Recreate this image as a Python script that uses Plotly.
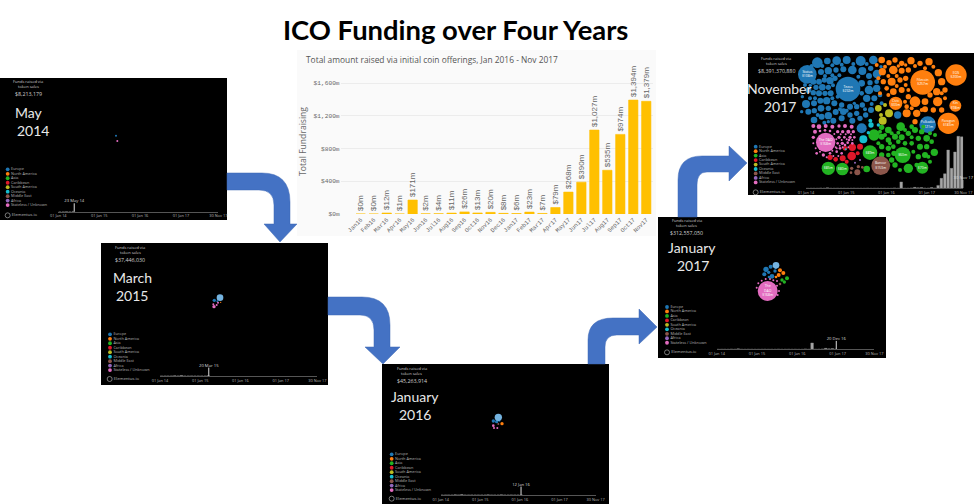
import plotly.graph_objects as go

W = 974
H = 504

# Main bar chart
months = ["Jan16", "Feb16", "Mar16", "Apr16", "May16", "Jun16", "Jul16", "Aug16", "Sep16", "Oct16", "Nov16", "Dec16",
          "Jan17", "Feb17", "Mar17", "Apr17", "May17", "Jun17", "Jul17", "Aug17", "Sep17", "Oct17", "Nov17"]
raised = [0, 0, 12, 1, 171, 2, 4, 11, 26, 13, 20, 8, 6, 23, 7, 79, 268, 390, 1027, 535, 974, 1394, 1379]
raised_labels = ["$0m", "$0m", "$12m", "$1m", "$171m", "$2m", "$4m", "$11m", "$26m", "$13m", "$20m", "$8m", "$6m",
                 "$23m", "$7m", "$79m", "$268m", "$390m", "$1,027m", "$535m", "$974m", "$1,394m", "$1,379m"]
y_ticks = [0, 400, 800, 1200, 1600]
y_tick_labels = ["$0m", "$400m", "$800m", "$1,200m", "$1,600m"]

# The timeline under each dark panel, monthly from Jan 2014 (2014-15 estimated, almost flat in the picture)
raised_2014_15 = [0, 1, 2, 1, 8, 3, 14, 2, 1, 3, 2, 1, 1, 2, 4, 1, 2, 1, 6, 1, 2, 3, 1, 2]
timeline_ticks = ["2014-01-01", "2015-01-01", "2016-01-01", "2017-01-01", "2017-11-30"]
timeline_labels = ["01 Jan 14", "01 Jan 15", "01 Jan 16", "01 Jan 17", "30 Nov 17"]

regions = ["Europe", "North America", "Asia", "Caribbean", "South America", "Oceania", "Middle East", "Africa",
           "Stateless / Unknown"]
region_colors = ["#1f77b4", "#ff7f0e", "#22b322", "#e0182a", "#bcbd22", "#17becf", "#8c564b", "#9467bd", "#e36cc0"]
selected_color = "#74b3e0"  # the one pale blue bubble in the early panels

may14 = {"Europe": [(348, 182, 3, "")], "Stateless / Unknown": [(352, 198, 3, "")]}
mar15 = {
    "Europe": [(343, 181, 5, ""), (352, 184, 3, "")],
    "North America": [(362, 187, 2, "")],
    "Stateless / Unknown": [(354, 188, 3, ""), (342, 200, 5, ""), (350, 195, 3, ""), (340, 193, 3, "")],
    "Selected": [(360, 173, 10, "")],
}
jan16 = {
    "Europe": [(340, 183, 5, ""), (350, 185, 5, ""), (358, 182, 3, "")],
    "North America": [(366, 191, 5, "")],
    "Middle East": [(355, 192, 3, "")],
    "Stateless / Unknown": [(340, 197, 4, ""), (352, 204, 3, ""), (342, 204, 3, "")],
    "Selected": [(355, 172, 11, "")],
}
jan17 = {
    "Europe": [(333, 163, 8, ""), (347, 155, 6, ""), (328, 178, 6, ""), (351, 184, 7, ""),
               (341, 172, 5, ""), (360, 168, 5, ""), (342, 186, 4, ""), (362, 158, 4, "")],
    "North America": [(375, 166, 6, ""), (385, 174, 6, ""), (371, 180, 6, ""), (363, 186, 4, "")],
    "Asia": [(396, 190, 6, ""), (381, 195, 5, ""), (388, 201, 5, "")],
    "Middle East": [(375, 207, 4, "")],
    "Stateless / Unknown": [(338, 228, 30, "The\nDAO\n$168m"), (305, 218, 3, ""), (310, 205, 3, ""), (320, 197, 3, ""),
                            (332, 192, 3, ""), (345, 192, 3, ""), (355, 196, 3, ""), (366, 198, 3, ""),
                            (372, 228, 3, ""), (366, 212, 3, ""), (368, 240, 3, "")],
    "Selected": [(363, 151, 10, "")],
}
nov17 = {
    "Europe": [(309, 117, 37, "Tezos\n$232m"), (187, 73, 28, "Status\n$108m"), (548, 224, 25, "Polkadot\n$121m"),
               (217, 38, 16, ""), (247, 33, 10, ""), (275, 32, 13, ""), (305, 30, 12, ""), (347, 33, 15, ""),
               (385, 30, 13, ""), (228, 66, 9, ""), (250, 62, 11, ""), (273, 60, 8, ""), (295, 58, 9, ""),
               (322, 60, 13, ""), (352, 63, 12, ""), (377, 55, 8, ""), (396, 72, 13, ""), (372, 78, 9, ""),
               (205, 95, 9, ""), (222, 95, 9, ""), (238, 90, 8, ""), (255, 92, 11, ""), (270, 85, 8, ""),
               (213, 112, 8, ""), (232, 112, 10, ""), (250, 112, 8, ""), (190, 120, 9, ""), (205, 128, 8, ""),
               (222, 130, 9, ""), (240, 130, 8, ""), (257, 130, 9, ""), (183, 162, 12, ""), (207, 160, 9, ""),
               (226, 152, 9, ""), (245, 152, 11, ""), (268, 160, 9, ""), (290, 165, 8, ""), (190, 185, 9, ""),
               (208, 182, 8, ""), (228, 175, 10, ""), (250, 175, 8, ""), (207, 210, 10, ""), (230, 200, 9, ""),
               (250, 197, 11, ""), (272, 186, 9, ""), (295, 185, 10, ""), (315, 170, 9, ""), (335, 170, 8, ""),
               (352, 165, 8, ""), (265, 212, 9, ""), (290, 205, 9, ""), (315, 195, 8, ""), (335, 190, 8, ""),
               (350, 235, 15, ""), (322, 212, 9, ""), (345, 205, 8, ""), (362, 195, 8, ""), (378, 180, 9, ""),
               (372, 120, 13, ""), (395, 115, 11, ""), (365, 145, 11, ""), (388, 145, 9, ""), (350, 100, 10, ""),
               (375, 98, 8, ""), (458, 195, 11, ""), (200, 48, 6, ""), (232, 48, 6, ""), (262, 46, 6, ""),
               (290, 44, 6, ""), (325, 42, 6, ""), (365, 42, 6, ""), (408, 50, 5, ""), (240, 78, 6, ""),
               (262, 76, 6, ""), (283, 76, 6, ""), (340, 80, 6, ""), (180, 105, 6, ""), (196, 106, 5, ""),
               (264, 106, 6, ""), (210, 145, 6, ""), (195, 145, 6, ""), (172, 140, 5, ""), (170, 185, 5, ""),
               (218, 195, 6, ""), (238, 218, 6, ""), (250, 215, 5, ""), (350, 130, 7, ""), (405, 135, 7, ""),
               (410, 160, 6, ""), (380, 162, 6, ""), (360, 178, 6, ""), (328, 160, 5, ""), (278, 140, 6, ""),
               (262, 145, 6, ""), (285, 178, 6, ""), (305, 182, 6, ""), (395, 95, 7, "")],
    "North America": [(533, 97, 37, "Filecoin\n$257m"), (633, 75, 32, "EOS\n$200m"), (610, 220, 32, "Paragon\n$183m"),
                      (452, 160, 20, "Civic\n$33m"), (631, 167, 18, "Kin\n$98m"), (410, 30, 10, ""), (432, 38, 8, ""),
                      (450, 30, 8, ""), (470, 40, 8, ""), (498, 32, 11, ""), (525, 40, 8, ""), (552, 35, 11, ""),
                      (445, 60, 13, ""), (412, 65, 11, ""), (470, 62, 9, ""), (490, 60, 8, ""), (580, 68, 11, ""),
                      (590, 95, 11, ""), (490, 140, 8, ""), (510, 155, 16, ""), (540, 155, 10, ""), (578, 155, 14, ""),
                      (440, 95, 12, ""), (465, 90, 8, ""), (415, 95, 8, ""), (482, 85, 8, ""), (470, 120, 9, ""),
                      (445, 125, 10, ""), (425, 115, 7, ""), (600, 120, 8, ""), (575, 125, 11, ""), (555, 135, 8, ""),
                      (485, 190, 12, ""), (515, 190, 11, ""), (540, 178, 9, ""), (565, 180, 8, ""), (590, 180, 8, ""),
                      (510, 215, 8, ""), (485, 170, 7, ""), (395, 45, 6, ""), (420, 50, 6, ""), (460, 48, 5, ""),
                      (510, 48, 6, ""), (540, 55, 6, ""), (565, 50, 6, ""), (482, 45, 5, ""), (400, 85, 6, ""),
                      (430, 78, 6, ""), (455, 78, 6, ""), (482, 105, 6, ""), (490, 120, 6, ""), (455, 108, 6, ""),
                      (430, 135, 6, ""), (405, 130, 6, ""), (480, 155, 6, ""), (600, 145, 6, ""), (590, 130, 6, ""),
                      (530, 180, 6, ""), (500, 175, 6, "")],
    "Asia": [(473, 315, 24, "$60m"), (250, 355, 20, "$85m"), (292, 357, 19, "$80m"), (375, 308, 22, "$89m"),
             (387, 255, 17, ""), (532, 353, 18, "$70m"), (467, 230, 13, ""), (490, 355, 14, ""), (365, 357, 10, ""),
             (568, 307, 11, ""), (450, 345, 8, ""), (430, 240, 10, ""), (410, 232, 8, ""), (410, 260, 9, ""),
             (430, 270, 8, ""), (450, 260, 9, ""), (470, 262, 9, ""), (490, 250, 8, ""), (510, 240, 9, ""),
             (530, 245, 8, ""), (520, 265, 8, ""), (545, 265, 10, ""), (500, 280, 7, ""), (525, 290, 9, ""),
             (545, 290, 8, ""), (560, 275, 7, ""), (410, 290, 8, ""), (430, 295, 8, ""), (445, 290, 7, ""),
             (430, 315, 7, ""), (440, 330, 8, ""), (520, 320, 8, ""), (540, 315, 9, ""), (515, 345, 7, ""),
             (410, 315, 8, ""), (460, 275, 7, ""), (480, 280, 7, ""), (447, 310, 8, ""), (500, 230, 7, ""),
             (405, 245, 6, ""), (420, 255, 6, ""), (440, 250, 6, ""), (460, 248, 6, ""), (480, 240, 6, ""),
             (500, 262, 6, ""), (535, 230, 6, ""), (555, 250, 6, ""), (570, 255, 6, ""), (505, 305, 6, ""),
             (555, 335, 6, ""), (430, 345, 6, ""), (465, 360, 6, ""), (400, 280, 6, ""), (435, 280, 6, ""),
             (550, 320, 6, "")],
    "Caribbean": [(320, 318, 13, ""), (322, 292, 11, ""), (345, 290, 9, ""), (300, 295, 7, ""), (293, 325, 9, ""),
                  (272, 328, 7, ""), (255, 322, 8, ""), (338, 310, 6, ""), (305, 335, 6, "")],
    "South America": [(400, 175, 10, ""), (432, 190, 12, ""), (413, 212, 12, ""), (420, 165, 6, ""), (408, 195, 6, "")],
    "Oceania": [(355, 268, 12, ""), (378, 225, 8, ""), (376, 212, 6, ""), (400, 225, 5, ""), (302, 298, 3, ""),
                (370, 248, 5, "")],
    "Middle East": [(407, 347, 28, "Bancor\n$153m"), (337, 367, 9, ""), (320, 355, 5, ""), (340, 350, 5, ""),
                    (352, 352, 4, ""), (318, 368, 4, "")],
    "Africa": [(345, 330, 3, ""), (330, 338, 3, "")],
    "Stateless / Unknown": [(242, 277, 29, "The DAO\n$168m"), (205, 228, 6, ""), (222, 230, 7, ""), (242, 228, 6, ""),
                            (262, 230, 6, ""), (282, 228, 5, ""), (300, 228, 6, ""), (320, 230, 6, ""),
                            (210, 245, 6, ""), (205, 262, 5, ""), (278, 245, 5, ""), (293, 245, 5, ""),
                            (310, 245, 6, ""), (325, 245, 5, ""), (282, 262, 5, ""), (298, 262, 4, ""),
                            (315, 262, 5, ""), (328, 262, 4, ""), (278, 280, 4, ""), (292, 280, 5, ""),
                            (308, 278, 4, ""), (322, 280, 4, ""), (285, 295, 4, ""), (300, 285, 4, ""),
                            (215, 310, 4, ""), (235, 315, 5, ""), (255, 310, 4, ""), (275, 305, 4, ""),
                            (290, 310, 4, ""), (312, 270, 4, ""), (225, 243, 4, ""), (240, 241, 4, ""),
                            (255, 243, 4, ""), (268, 252, 3, ""), (287, 253, 3, ""), (302, 253, 3, ""),
                            (318, 253, 3, ""), (274, 268, 3, ""), (290, 270, 3, ""), (305, 268, 3, ""),
                            (322, 270, 3, ""), (284, 287, 3, ""), (293, 292, 3, ""), (310, 292, 3, ""),
                            (272, 292, 3, ""), (262, 302, 3, ""), (275, 295, 3, ""), (225, 305, 3, ""),
                            (245, 322, 3, ""), (265, 318, 3, ""), (280, 318, 3, ""), (212, 295, 3, ""),
                            (205, 280, 3, "")],
}

# Dark panels. crop = where the 3x crop began, all panel text and bubbles are in those units
panels = [
    dict(box=(0, 78, 227, 220), crop=(0, 75), bubbles=may14, total="$8,213,179", month="May", year="2014",
         marker="2014-05-23", marker_label="23 May 14", head=(85, 19, 35, 58), month_at=(88, 112), year_at=(98, 165),
         legend=(23, 283), time=(175, 655, 410), logo=(23, 421)),
    dict(box=(101, 243, 328, 385), crop=(100, 240), bubbles=mar15, total="$37,446,030", month="March", year="2015",
         marker="2015-03-20", marker_label="20 Mar 15", head=(90, 21, 36, 59), month_at=(97, 112), year_at=(95, 165),
         legend=(30, 283), time=(180, 652, 408), logo=(29, 417)),
    dict(box=(382, 364, 609, 504), crop=(380, 360), bubbles=jan16, total="$45,263,914", month="January", year="2016",
         marker="2016-01-12", marker_label="12 Jan 16", head=(95, 26, 41, 62), month_at=(105, 110), year_at=(104, 162),
         legend=(35, 283), time=(182, 647, 405), logo=(35, 416)),
    dict(box=(658, 217, 886, 358), crop=(655, 215), bubbles=jan17, total="$312,557,050", month="January", year="2017",
         marker="2016-12-20", marker_label="20 Dec 16", head=(95, 16, 32, 53), month_at=(112, 97), year_at=(115, 150),
         legend=(36, 276), time=(185, 658, 403), logo=(36, 412)),
    dict(box=(748, 53, 974, 195), crop=(745, 50), bubbles=nov17, total="$8,391,370,880", month="November", year="2017",
         marker="2017-11-30", marker_label="30 Nov 17", head=(93, 27, 42, 63), month_at=(103, 117), year_at=(105, 170),
         legend=(32, 290), time=(183, 655, 415), logo=(32, 427)),
]

# Blue bent arrows, in picture pixels
arrows = [
    "M227,173 L262,173 Q290,173 290,202 L290,224 L297,224 L280,242 L264,224 L274,224 L274,205 Q274,190 259,190 L227,190 Z",
    "M328,297 L362,297 Q390,297 390,325 L390,347 L400,347 L383,364 L365,347 L374,347 L374,330 Q374,315 360,315 L328,315 Z",
    "M588,364 L588,340 Q588,318 613,318 L639,318 L639,309 L657,327 L639,344 L639,335 L617,335 Q605,335 605,347 L605,364 Z",
    "M678,217 L678,180 Q678,156 702,156 L729,156 L729,146 L747,163 L729,181 L729,172 L707,172 Q697,172 697,185 L697,217 Z",
]


def fx(px):
    return px/W


def fy(px):
    return 1 - px/H


def to_paper(path):
    out = []
    for part in path.split():
        if "," in part:
            a, b = part[1:].split(",") if part[0].isalpha() else part.split(",")
            prefix = part[0] if part[0].isalpha() else ""
            out.append(f"{prefix}{fx(float(a)):.5f},{fy(float(b)):.5f}")
        else:
            out.append(part)
    return " ".join(out)


fig = go.Figure()
shapes = []
notes = []
axes = {}

# Centre panel background, paper shapes sit under every subplot
shapes.append(dict(type="rect", xref="paper", yref="paper", x0=fx(297), x1=fx(656), y0=fy(236), y1=fy(50),
                   fillcolor="#fafafa", line_width=0, layer="below"))

fig.add_trace(go.Bar(x=months, y=raised, text=raised_labels, textposition="outside", textangle=-90,
                     cliponaxis=False, constraintext="none", width=0.72,
                     marker=dict(color="#FFC000", line=dict(color="#FFC000", width=0.6)),
                     textfont=dict(family="Liberation Sans", size=8, color="#666666")))
axes["xaxis"] = dict(domain=[fx(340.6), fx(653.4)], anchor="y", range=[-1.55, 22.55], type="category",
                     tickmode="array", tickvals=months, ticktext=months, tickangle=-45, ticklen=0,
                     tickfont=dict(family="Liberation Mono", size=6, color="#666666"), showgrid=False,
                     showline=False, zeroline=False)
axes["yaxis"] = dict(domain=[fy(214), fy(66.9)], anchor="x", range=[0, 1800], tickmode="array", tickvals=y_ticks,
                     ticktext=y_tick_labels, ticklen=0, gridcolor="#ececec", gridwidth=1, zeroline=False,
                     tickfont=dict(family="Liberation Mono", size=6.2, color="#666666"))

notes.append(dict(text="<b>ICO Funding over Four Years</b>", x=fx(455), y=fy(29), xref="paper", yref="paper",
                  xanchor="center", yanchor="middle", showarrow=False,
                  font=dict(family="Lato", size=27.4, color="#000000")))
notes.append(dict(text="Total amount raised via initial coin offerings, Jan 2016 - Nov 2017", x=fx(304), y=fy(59),
                  xref="paper", yref="paper", xanchor="left", yanchor="middle", showarrow=False,
                  font=dict(family="Open Sans", size=8.4, color="#555555")))
notes.append(dict(text="Total Fundraising", x=fx(303), y=fy(142), xref="paper", yref="paper", textangle=-90,
                  xanchor="center", yanchor="middle", showarrow=False,
                  font=dict(family="Open Sans", size=8.6, color="#666666")))

timeline_dates = [f"{y}-{m:02d}-15" for y in (2014, 2015, 2016, 2017) for m in range(1, 13)][:47]
timeline_values = raised_2014_15 + raised

n = 2
for p in panels:
    left, top, right, bottom = p["box"]
    cx, cy = p["crop"]
    xa, ya = f"x{n}", f"y{n}"
    xb, yb = f"x{n+1}", f"y{n+1}"
    shapes.append(dict(type="rect", xref="paper", yref="paper", x0=fx(left), x1=fx(right), y0=fy(bottom), y1=fy(top),
                       fillcolor="#000000", line_width=0, layer="below"))
    axes[f"xaxis{n}"] = dict(domain=[fx(left), fx(right)], anchor=ya, visible=False,
                             range=[(left-cx)*3, (right-cx)*3])
    axes[f"yaxis{n}"] = dict(domain=[fy(bottom), fy(top)], anchor=xa, visible=False,
                             range=[(bottom-cy)*3, (top-cy)*3])

    # Timeline with the month bars up to the marker date
    t0, t1, base = p["time"]
    base_px = cy + base/3
    axes[f"xaxis{n+1}"] = dict(domain=[fx(cx + t0/3), fx(cx + t1/3)], anchor=yb, type="date",
                               range=[timeline_ticks[0], timeline_ticks[-1]], tickmode="array",
                               tickvals=timeline_ticks, ticktext=timeline_labels, ticklen=0, showgrid=False,
                               tickangle=0, zeroline=False, showline=True, linecolor="#555555", linewidth=1,
                               tickfont=dict(family="Open Sans", size=3.9, color="#bbbbbb"))
    axes[f"yaxis{n+1}"] = dict(domain=[fy(base_px), fy(base_px - 60)], anchor=xb, range=[0, 1608], visible=False)
    shown = [i for i, d in enumerate(timeline_dates) if d[:7] <= p["marker"][:7]]
    fig.add_trace(go.Bar(x=[timeline_dates[i] for i in shown], y=[timeline_values[i] for i in shown],
                         width=2.1e9, marker=dict(color="#a6a6a6", line=dict(color="#8a8a8a", width=0.4)),
                         xaxis=xb, yaxis=yb))
    fig.add_trace(go.Scatter(x=[p["marker"], p["marker"]], y=[0, 225], text=["", p["marker_label"]],
                             mode="lines+text", textposition="top center", cliponaxis=False,
                             line=dict(color="#dddddd", width=1), xaxis=xb, yaxis=yb,
                             textfont=dict(family="Open Sans", size=4.2, color="#dddddd")))

    # Bubbles, region by region
    for region, color in zip(regions + ["Selected"], region_colors + [selected_color]):
        if region not in p["bubbles"]:
            continue
        rows = p["bubbles"][region]
        fig.add_trace(go.Scatter(x=[r[0] for r in rows], y=[r[1] for r in rows],
                                 text=[r[3].replace("\n", "<br>") for r in rows], mode="markers+text",
                                 textposition="middle center", xaxis=xa, yaxis=ya, cliponaxis=False,
                                 marker=dict(size=[r[2]*2/3 for r in rows], color=color, opacity=1, line_width=0),
                                 textfont=dict(family="Open Sans", size=3.4, color="#ffffff")))

    # Legend as markers with text
    lx, ly = p["legend"]
    fig.add_trace(go.Scatter(x=[lx]*len(regions), y=[ly + i*13.4 for i in range(len(regions))], text=regions,
                             mode="markers+text", textposition="middle right", xaxis=xa, yaxis=ya,
                             marker=dict(size=3.8, color=region_colors, opacity=1),
                             textfont=dict(family="Open Sans", size=3.8, color="#b5b5b5")))
    fig.add_trace(go.Scatter(x=[p["logo"][0]], y=[p["logo"][1]], text=["Elementus.io"], mode="markers+text",
                             textposition="middle right", xaxis=xa, yaxis=ya,
                             marker=dict(size=5, color="#000000", line=dict(color="#aaaaaa", width=0.7)),
                             textfont=dict(family="Open Sans", size=4.2, color="#bbbbbb")))

    hx, h1, h2, h3 = p["head"]
    for txt, hy, size in (("Funds raised via", h1, 4), ("token sales", h2, 4), (p["total"], h3, 5.3)):
        notes.append(dict(text=txt, x=hx, y=hy, xref=xa, yref=ya, showarrow=False, xanchor="center", yanchor="middle",
                          font=dict(family="Open Sans", size=size, color="#d0d0d0")))
    for txt, at in ((p["month"], p["month_at"]), (p["year"], p["year_at"])):
        notes.append(dict(text=txt, x=at[0], y=at[1], xref=xa, yref=ya, showarrow=False, xanchor="center",
                          yanchor="middle", font=dict(family="Lato", size=14, color="#e8e8e8")))
    n += 2

for path in arrows:
    shapes.append(dict(type="path", path=to_paper(path), xref="paper", yref="paper", fillcolor="#4472C4",
                       line=dict(color="#3f68b5", width=0.5), layer="above"))

fig.update_layout(width=W, height=H, margin=dict(l=0, r=0, t=0, b=0, autoexpand=False), showlegend=False,
                  paper_bgcolor="#ffffff", plot_bgcolor="rgba(0,0,0,0)", shapes=shapes, annotations=notes,
                  bargap=0.28, **axes)

fig.write_html("out.html", config={"displayModeBar": False},
               post_script="document.body.style.margin='0';document.body.style.overflow='hidden';")
